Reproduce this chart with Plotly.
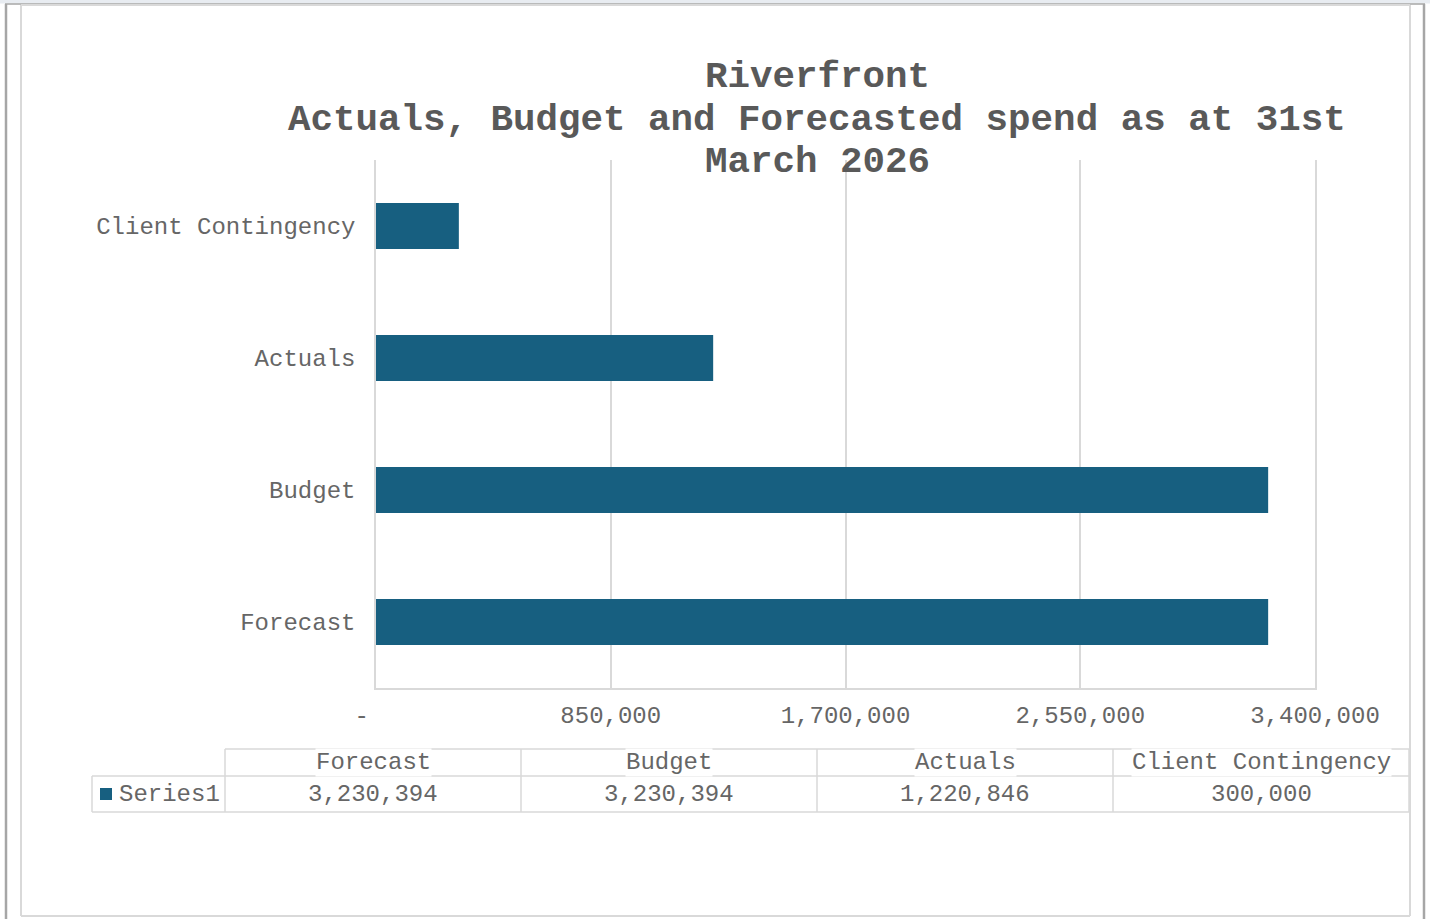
import plotly.graph_objects as go

# ---- data ----
categories = ["Forecast", "Budget", "Actuals", "Client Contingency"]
values = [3230394, 3230394, 1220846, 300000]
series_name = "Series1"
tick_values = [0, 850000, 1700000, 2550000, 3400000]
tick_labels = ["-\u00a0\u00a0", "850,000", "1,700,000", "2,550,000", "3,400,000"]
title_lines = ["Riverfront", "Actuals, Budget and Forecasted spend as at 31st", "March 2026"]

# ---- layout geometry (pixels) ----
W, H = 1430, 919
PL, PR, PT, PB = 376, 1315, 160, 688
BAR = "#175F80"
GRID = "#d9d9d9"
TXT = "#595959"
TXT_LIGHT = "#666666"
FONT = "Liberation Mono, Courier New, monospace"


def px(x):
    return (x - PL) / (PR - PL)


def py(y):
    return (PB - y) / (PB - PT)


fig = go.Figure(go.Bar(
    y=categories, x=values, orientation="h", name=series_name,
    marker=dict(color=BAR, line=dict(width=0)), showlegend=False,
))

shapes = []


def line(x0, y0, x1, y1, color=GRID, width=1.5):
    shapes.append(dict(type="line", xref="paper", yref="paper",
                       x0=px(x0), y0=py(y0), x1=px(x1), y1=py(y1),
                       line=dict(color=color, width=width)))


# outer frame
shapes.append(dict(type="rect", xref="paper", yref="paper", x0=px(0), x1=px(W),
                   y0=py(0), y1=py(3.5), fillcolor="#e8ecf1", line=dict(width=0)))
line(5, 4, 1425, 4, "#a6a6a6", 1.5)
line(6, 4, 6, 919, "#a6a6a6", 2.5)
line(1424, 4, 1424, 919, "#a6a6a6", 2.5)
# inner chart area border
line(21, 5, 1410, 5, GRID, 2)
line(21, 5, 21, 916, GRID, 2)
line(1410, 5, 1410, 916, GRID, 2)
line(21, 916, 1410, 916, GRID, 2)

# data table grid
col_edges = [225, 521, 817, 1113, 1409]
y_head_top, y_row_top, y_row_bot = 749, 776, 812
line(225, y_head_top, 1409, y_head_top)
line(92, y_row_top, 1409, y_row_top)
line(92, y_row_bot, 1409, y_row_bot)
line(92, y_row_top, 92, y_row_bot)
for cx in col_edges:
    line(cx, y_head_top, cx, y_row_bot)
# legend key
shapes.append(dict(type="rect", xref="paper", yref="paper", x0=px(100), x1=px(112),
                   y0=py(800), y1=py(788), fillcolor=BAR, line=dict(width=0)))

annotations = []
# title
for yy, t in zip([77, 120, 162], title_lines):
    annotations.append(dict(xref="paper", yref="paper", x=px(817), y=py(yy), text=t,
                            showarrow=False, xanchor="center", yanchor="middle",
                            font=dict(family=FONT, size=37.5, color=TXT, weight="bold")))
# table text
for i, (c, v) in enumerate(zip(categories, values)):
    cx = (col_edges[i] + col_edges[i + 1]) / 2
    annotations.append(dict(xref="paper", yref="paper", x=px(cx), y=py(762), text=c,
                            showarrow=False, xanchor="center", yanchor="middle",
                            bgcolor="white", borderpad=0,
                            font=dict(family=FONT, size=24, color=TXT_LIGHT)))
    annotations.append(dict(xref="paper", yref="paper", x=px(cx), y=py(794), text=f"{v:,}",
                            showarrow=False, xanchor="center", yanchor="middle",
                            font=dict(family=FONT, size=24, color=TXT_LIGHT)))
annotations.append(dict(xref="paper", yref="paper", x=px(117), y=py(794), text=series_name,
                        showarrow=False, xanchor="left", yanchor="middle",
                        font=dict(family=FONT, size=24, color=TXT_LIGHT)))

fig.update_layout(
    width=W, height=H,
    margin=dict(l=PL, r=W - PR, t=PT, b=H - PB, pad=0),
    paper_bgcolor="white", plot_bgcolor="white",
    bargap=0.65,
    font=dict(family=FONT, size=24, color=TXT_LIGHT),
    shapes=shapes, annotations=annotations,
    xaxis=dict(range=[0, 3400000], tickvals=tick_values, ticktext=tick_labels,
               showgrid=True, gridcolor=GRID, gridwidth=1.5, zeroline=False,
               showline=True, linecolor=GRID, linewidth=1.5, ticks="",
               ticklabelstandoff=4, fixedrange=True,
               tickfont=dict(family=FONT, size=24, color=TXT_LIGHT)),
    yaxis=dict(showgrid=False, zeroline=False, showline=True, mirror=True,
               linecolor=GRID, linewidth=1.5, ticks="", ticklabelstandoff=14,
               fixedrange=True,
               tickfont=dict(family=FONT, size=24, color=TXT_LIGHT)),
)

fig.write_html("out.html")
